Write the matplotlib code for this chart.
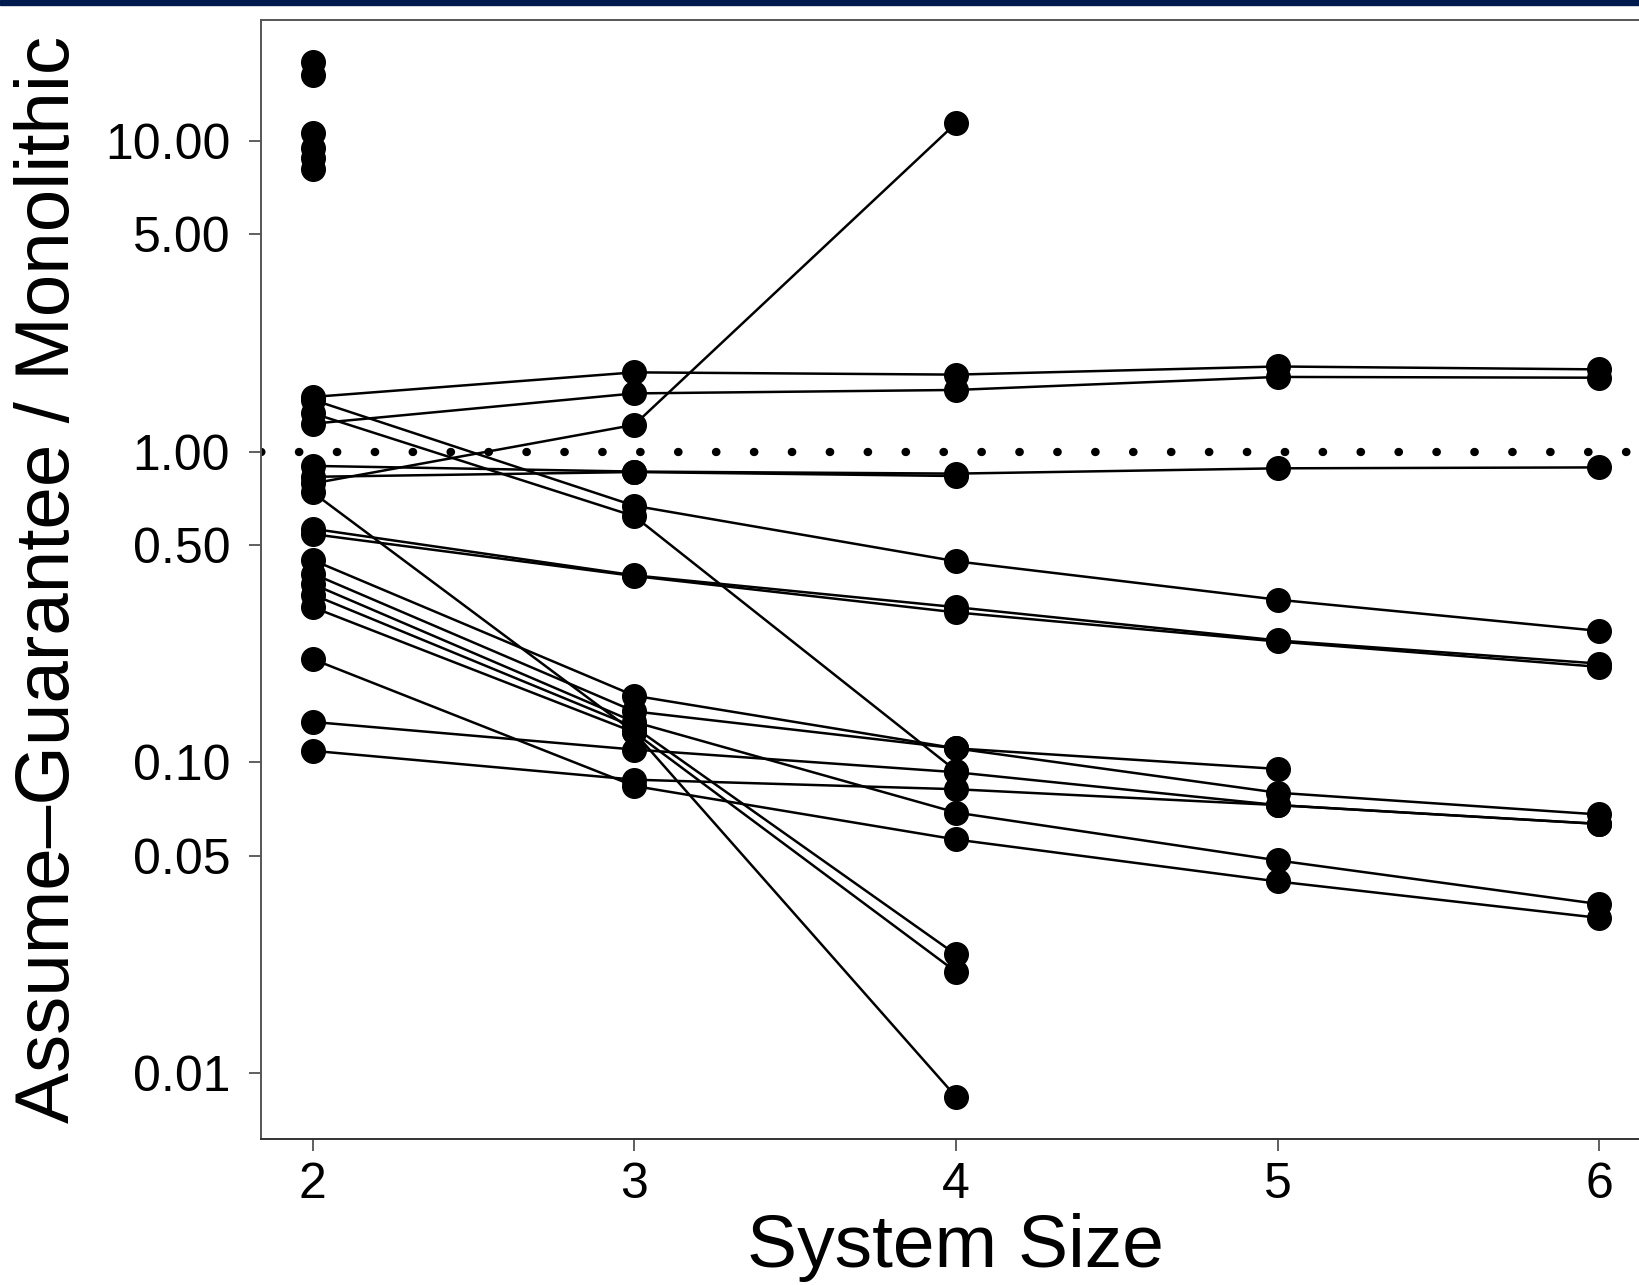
import matplotlib
matplotlib.use("Agg")
import matplotlib.pyplot as plt
from matplotlib.patches import Rectangle
import numpy as np

plt.rcParams['font.family'] = ['Liberation Sans', 'DejaVu Sans']

# ---- data -------------------------------------------------------------
sizes = [2, 3, 4, 5, 6]

# series reaching size 6
s_a = [1.50, 1.80, 1.77, 1.88, 1.84]
s_b = [1.23, 1.54, 1.58, 1.74, 1.73]
s_c = [0.90, 0.863, 0.85, 0.884, 0.89]
s_d = [1.47, 0.67, 0.444, 0.334, 0.265]
s_e = [0.565, 0.40, 0.316, 0.247, 0.208]
s_f = [0.543, 0.398, 0.304, 0.245, 0.203]
s_g = [0.405, 0.146, 0.111, 0.0799, 0.068]
s_h = [0.375, 0.135, 0.069, 0.0484, 0.035]
s_i = [0.135, 0.110, 0.093, 0.0729, 0.0634]
s_j = [0.109, 0.088, 0.082, 0.0729, 0.0634]
s_k = [0.215, 0.084, 0.0565, 0.0414, 0.0316]
# series reaching size 5
s_l = [0.448, 0.164, 0.111, 0.0953]
# series reaching size 4
s_m = [1.33, 0.62, 0.094]
s_n = [0.79, 1.22, 11.4]
s_o = [0.74, 0.125, 0.0084]
s_p = [0.347, 0.13, 0.0241]
s_q = [0.316, 0.125, 0.0212]
s_r = [0.83, 0.86, 0.835]
# size-2 only points
s2_only = [18.0, 16.3, 10.6, 9.5, 8.8, 8.1]

all_series = [s_a, s_b, s_c, s_d, s_e, s_f, s_g, s_h, s_i, s_j, s_k,
              s_l, s_m, s_n, s_o, s_p, s_q, s_r]

yticks = [0.01, 0.05, 0.10, 0.50, 1.00, 5.00, 10.00]
ytick_labels = ["0.01", "0.05", "0.10", "0.50", "1.00", "5.00", "10.00"]
xlabel = "System Size"
ylabel = "Assume\u2013Guarantee / Monolithic"

# ---- figure -----------------------------------------------------------
W, H = 1640, 1285
fig = plt.figure(figsize=(W / 100, H / 100), dpi=100)
fig.patch.set_facecolor("white")

left, right, top, bottom = 261.5, 1650, 20, 1139
ax = fig.add_axes([left / W, 1 - bottom / H, (right - left) / W, (bottom - top) / H])

ax.set_yscale("log")
ax.set_xlim(1.841, 6.158)
ax.set_ylim(0.00614, 24.5)

# reference line at 1 (round dots)
ax.axhline(1.0, color="black", lw=6, linestyle=(0, (0.05, 4.5)),
           dash_capstyle="round", zorder=1)

for s in all_series:
    ax.plot(sizes[:len(s)], s, color="black", lw=1.8, marker="o",
            ms=17, mfc="black", mec="black", zorder=3)
ax.plot([sizes[0]] * len(s2_only), s2_only, linestyle="none", marker="o",
        ms=17, color="black", zorder=3)

ax.yaxis.set_major_locator(matplotlib.ticker.FixedLocator(yticks))
ax.yaxis.set_minor_locator(matplotlib.ticker.NullLocator())
ax.set_yticklabels(ytick_labels)
ax.set_xticks(sizes)
ax.set_xticklabels([str(v) for v in sizes])

for sp in ax.spines.values():
    sp.set_color("#555555")
    sp.set_linewidth(1.4)
ax.spines["bottom"].set_color("#333333")

ax.tick_params(axis="both", direction="out", length=8.5, width=1.2,
               color="#444444", labelsize=36, labelcolor="black")
ax.tick_params(axis="y", pad=14)
ax.tick_params(axis="x", pad=8)

ax.set_xlabel(xlabel, fontsize=54)
ax.xaxis.set_label_coords(0.5, -0.066)
ax.set_ylabel(ylabel, fontsize=55, labelpad=14)

# dark header strip
fig.patches.append(Rectangle((0, 1 - 5 / H), 1, 5 / H, transform=fig.transFigure,
                             color="#001a4d", zorder=10))

fig.savefig("out.png", dpi=100)
